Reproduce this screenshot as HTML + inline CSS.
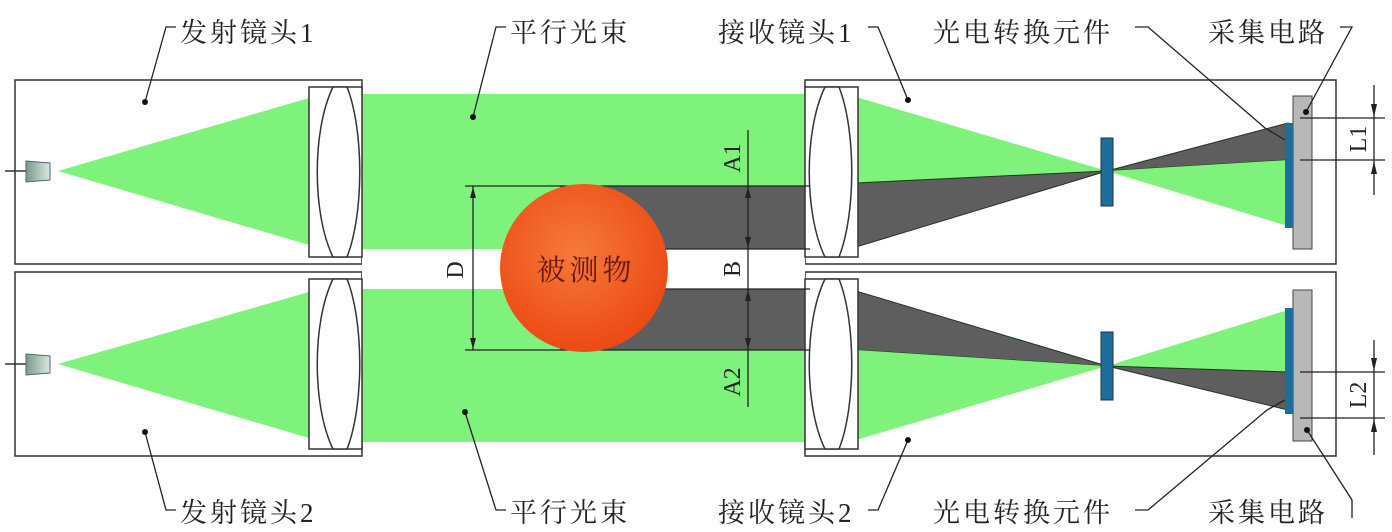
<!DOCTYPE html>
<html><head><meta charset="utf-8"><style>
html,body{margin:0;padding:0;background:#fff;}
svg{display:block;}
text{font-family:"Liberation Serif","Noto Serif CJK SC","Noto Sans CJK SC",serif;fill:#222;}
</style></head><body>
<svg width="1392" height="532" viewBox="0 0 1392 532" xmlns="http://www.w3.org/2000/svg">
<defs>
<radialGradient id="sph" cx="45%" cy="40%" r="60%">
<stop offset="0" stop-color="#f67a3a"/><stop offset="1" stop-color="#ec4a14"/></radialGradient>
<linearGradient id="emit" x1="0" x2="1"><stop offset="0" stop-color="#7a9a8a"/><stop offset="1" stop-color="#d8e8e0"/></linearGradient>
</defs>
<rect width="1392" height="532" fill="#fff"/>
<rect x="15" y="80" width="347" height="184" fill="#fff" stroke="#333" stroke-width="1.5"/>
<rect x="15" y="272" width="347" height="184" fill="#fff" stroke="#333" stroke-width="1.5"/>
<rect x="805" y="80" width="531" height="184" fill="#fff" stroke="#333" stroke-width="1.5"/>
<rect x="805" y="272" width="531" height="184" fill="#fff" stroke="#333" stroke-width="1.5"/>
<polygon points="58,171 309,98 309,245" fill="#7ef27a"/>
<polygon points="58,364 309,292 309,438" fill="#7ef27a"/>
<rect x="352" y="94" width="460" height="156" fill="#7ef27a"/>
<rect x="352" y="289" width="460" height="153" fill="#7ef27a"/>
<rect x="362" y="249" width="443" height="40" fill="#fff"/>
<rect x="560" y="186" width="252" height="63" fill="#5e5e5e"/>
<rect x="560" y="289" width="252" height="61" fill="#5e5e5e"/>
<polygon points="856,97 856,183 1107,171" fill="#7ef27a"/>
<polygon points="856,183 856,247 1107,171" fill="#5e5e5e" stroke="#1a3a1a" stroke-width="1"/>
<polygon points="1107,171 1288,123 1288,160" fill="#5e5e5e" stroke="#1a3a1a" stroke-width="1"/>
<polygon points="1107,171 1288,160 1288,226" fill="#7ef27a"/>
<polygon points="856,291 856,350 1107,366" fill="#5e5e5e" stroke="#1a3a1a" stroke-width="1"/>
<polygon points="856,350 856,440 1107,366" fill="#7ef27a"/>
<polygon points="1107,366 1288,310 1288,372" fill="#7ef27a"/>
<polygon points="1107,366 1288,372 1288,410" fill="#5e5e5e" stroke="#1a3a1a" stroke-width="1"/>
<rect x="1101" y="138" width="12" height="68" fill="#1d6e9a" stroke="#234" stroke-width="1"/>
<rect x="1101" y="332" width="12" height="68" fill="#1d6e9a" stroke="#234" stroke-width="1"/>
<rect x="1293" y="96" width="19" height="153" fill="#b8b8b8" stroke="#444" stroke-width="1"/>
<rect x="1293" y="290" width="19" height="151" fill="#b8b8b8" stroke="#444" stroke-width="1"/>
<rect x="1285" y="123" width="8" height="105" fill="#1d6e9a"/>
<rect x="1285" y="308" width="8" height="106" fill="#1d6e9a"/>
<g fill="#fff" stroke="#333" stroke-width="1.5">
<rect x="309" y="87" width="53" height="170"/>
<rect x="309" y="279" width="53" height="170"/>
<rect x="805" y="87" width="53" height="170"/>
<rect x="805" y="279" width="53" height="170"/>
<path d="M333,87 C312,130 312,214 333,257 L347,257 C364,214 364,130 347,87 Z"/>
<path d="M333,279 C312,322 312,406 333,449 L347,449 C364,406 364,322 347,279 Z"/>
<path d="M825,87 C804,130 804,214 825,257 L839,257 C856,214 856,130 839,87 Z"/>
<path d="M825,279 C804,322 804,406 825,449 L839,449 C856,406 856,322 839,279 Z"/>
</g>
<line x1="5" y1="171" x2="27" y2="171" stroke="#333" stroke-width="1.5"/>
<line x1="5" y1="364" x2="27" y2="364" stroke="#333" stroke-width="1.5"/>
<polygon points="26,161 50,163 50,180 26,182" fill="url(#emit)" stroke="#567" stroke-width="1"/>
<polygon points="26,354 50,356 50,373 26,375" fill="url(#emit)" stroke="#567" stroke-width="1"/>
<g stroke="#222" stroke-width="1.3" fill="none">
<line x1="465" y1="186" x2="810" y2="186"/>
<line x1="465" y1="350" x2="810" y2="350"/>
<line x1="660" y1="249" x2="810" y2="249"/>
<line x1="660" y1="289" x2="810" y2="289"/>
<line x1="473" y1="186" x2="473" y2="350"/>
<line x1="748" y1="130" x2="748" y2="407"/>
<line x1="1300" y1="118" x2="1385" y2="118"/>
<line x1="1300" y1="160" x2="1385" y2="160"/>
<line x1="1300" y1="372" x2="1385" y2="372"/>
<line x1="1300" y1="418" x2="1385" y2="418"/>
<line x1="1374" y1="85" x2="1374" y2="195"/>
<line x1="1374" y1="340" x2="1374" y2="455"/>
</g>
<circle cx="584" cy="268" r="84" fill="url(#sph)"/>
<text x="586" y="280" font-size="29" letter-spacing="4" text-anchor="middle" style="fill:#6a1a10">被测物</text>
<g fill="#222">
<polygon points="473,187 470,198 476,198"/><polygon points="473,349 470,338 476,338"/>
<polygon points="748,187 745,198 751,198"/><polygon points="748,248 745,237 751,237"/>
<polygon points="748,290 745,301 751,301"/><polygon points="748,349 745,338 751,338"/>
<polygon points="1374,117 1371,104 1377,104"/><polygon points="1374,161 1371,174 1377,174"/>
<polygon points="1374,371 1371,358 1377,358"/><polygon points="1374,419 1371,432 1377,432"/>
</g>
<g font-size="24">
<text transform="translate(463,270) rotate(-90)" text-anchor="middle">D</text>
<text transform="translate(740,158) rotate(-90)" text-anchor="middle">A1</text>
<text transform="translate(740,269) rotate(-90)" text-anchor="middle">B</text>
<text transform="translate(740,382) rotate(-90)" text-anchor="middle">A2</text>
<text transform="translate(1366,139) rotate(-90)" text-anchor="middle">L1</text>
<text transform="translate(1366,395) rotate(-90)" text-anchor="middle">L2</text>
</g>
<g font-size="27" letter-spacing="3">
<text x="180" y="42">发射镜头1</text>
<text x="510" y="42">平行光束</text>
<text x="718" y="42">接收镜头1</text>
<text x="933" y="42">光电转换元件</text>
<text x="1208" y="42">采集电路</text>
<text x="180" y="522">发射镜头2</text>
<text x="510" y="522">平行光束</text>
<text x="718" y="522">接收镜头2</text>
<text x="933" y="522">光电转换元件</text>
<text x="1208" y="522">采集电路</text>
</g>
<g stroke="#222" stroke-width="1.3" fill="none">
<polyline points="176,27 166,27 145,102"/>
<polyline points="506,27 496,27 473,117"/>
<polyline points="868,27 878,27 908,100"/>
<polyline points="1135,27 1148,27 1265,128 1285,140"/>
<polyline points="1340,27 1352,27 1306,112"/>
<polyline points="176,510 166,510 145,432"/>
<polyline points="506,510 496,510 465,412"/>
<polyline points="868,510 878,510 908,440"/>
<polyline points="1135,510 1148,510 1267,410 1285,400"/>
<polyline points="1307,430 1352,500 1352,518"/>
</g>
<g fill="#111">
<circle cx="145" cy="102" r="3"/><circle cx="473" cy="117" r="3"/><circle cx="908" cy="100" r="3"/>
<circle cx="1306" cy="112" r="3"/><circle cx="145" cy="432" r="3"/><circle cx="465" cy="412" r="3"/>
<circle cx="908" cy="440" r="3"/><circle cx="1307" cy="430" r="3"/>
</g>
</svg>
</body></html>
